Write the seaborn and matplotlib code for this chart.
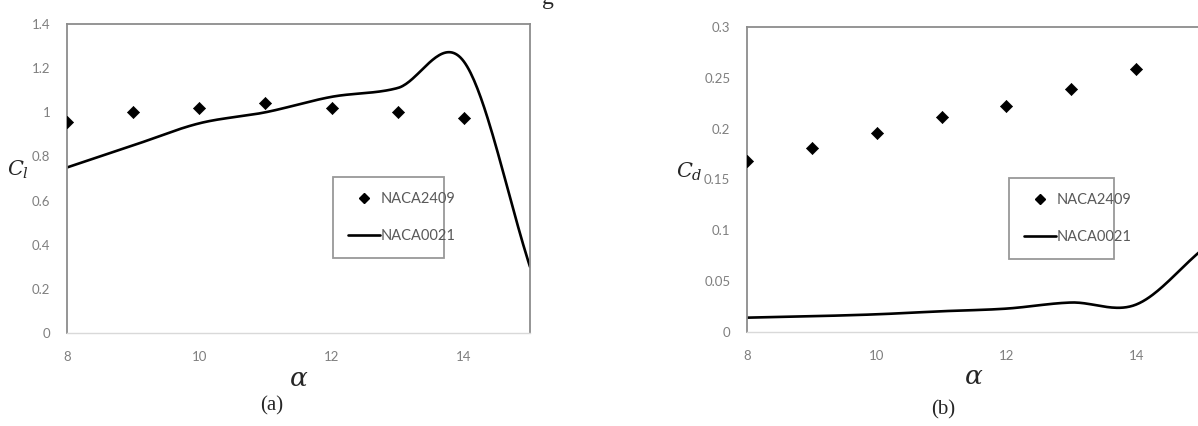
import numpy as np
import pandas as pd
import matplotlib
matplotlib.use("Agg")
import matplotlib.pyplot as plt
import seaborn as sns
from matplotlib.lines import Line2D

# ---------------- data ----------------
alpha_pts = [8, 9, 10, 11, 12, 13, 14]
cl_naca2409 = [0.955, 1.0, 1.02, 1.04, 1.02, 1.0, 0.975]
cd_naca2409 = [0.168, 0.181, 0.196, 0.211, 0.222, 0.239, 0.259]

alpha_line = [8, 9, 10, 11, 12, 13, 14, 15]
cl_naca0021 = [0.75, 0.85, 0.95, 1.0, 1.07, 1.11, 1.23, 0.30]
cd_naca0021 = [0.0141, 0.0155, 0.0174, 0.0204, 0.023, 0.029, 0.027, 0.08]

x_ticks = [8, 10, 12, 14]
cl_ticks = [0, 0.2, 0.4, 0.6, 0.8, 1.0, 1.2, 1.4]
cl_ticklabels = ["0", "0.2", "0.4", "0.6", "0.8", "1", "1.2", "1.4"]
cd_ticks = [0, 0.05, 0.1, 0.15, 0.2, 0.25, 0.3]
cd_ticklabels = ["0", "0.05", "0.1", "0.15", "0.2", "0.25", "0.3"]


def smooth_curve(xs, ys, n=40):
    """Catmull-Rom (Excel-style) smoothed rendering through given points."""
    xs = np.asarray(xs, float)
    ys = np.asarray(ys, float)
    m = np.zeros_like(ys)
    m[1:-1] = (ys[2:] - ys[:-2]) / (xs[2:] - xs[:-2])
    m[0] = (ys[1] - ys[0]) / (xs[1] - xs[0])
    m[-1] = (ys[-1] - ys[-2]) / (xs[-1] - xs[-2])
    ox, oy = [], []
    for i in range(len(xs) - 1):
        h = xs[i + 1] - xs[i]
        t = np.linspace(0, 1, n, endpoint=(i == len(xs) - 2))
        h00 = 2 * t**3 - 3 * t**2 + 1
        h10 = t**3 - 2 * t**2 + t
        h01 = -2 * t**3 + 3 * t**2
        h11 = t**3 - t**2
        ox.extend(xs[i] + t * h)
        oy.extend(h00 * ys[i] + h10 * h * m[i] + h01 * ys[i + 1] + h11 * h * m[i + 1])
    return np.array(ox), np.array(oy)


sns.set_style("white")
plt.rcParams["font.family"] = ["Lato", "DejaVu Sans"]
plt.rcParams["mathtext.fontset"] = "dejavuserif"

fig = plt.figure(figsize=(11.98, 4.26), dpi=100)
ax1 = fig.add_axes([67 / 1198, 1 - 333 / 426, (530 - 67) / 1198, (333 - 24) / 426])
ax2 = fig.add_axes([747 / 1198, 1 - 332 / 426, (1201 - 747) / 1198, (332 - 27) / 426])

tick_color = "#7f7f7f"
spine_dark = "#8c8c8c"
spine_light = "#d9d9d9"


def draw(ax, y_pts, y_line, yticks, yticklabels, ylim, legend_box):
    df_pts = pd.DataFrame({"alpha": alpha_pts, "val": y_pts})
    sx, sy = smooth_curve(alpha_line, y_line)
    df_line = pd.DataFrame({"alpha": sx, "val": sy})
    sns.scatterplot(data=df_pts, x="alpha", y="val", ax=ax, marker="D", s=38,
                    color="black", edgecolor="black", linewidth=0.5, zorder=3)
    sns.lineplot(data=df_line, x="alpha", y="val", ax=ax, color="black",
                 linewidth=1.9, zorder=2, sort=False)
    ax.set_xlim(8, 15)
    ax.set_ylim(*ylim)
    ax.set_xticks(x_ticks)
    ax.set_xticklabels([str(v) for v in x_ticks])
    ax.set_yticks(yticks)
    ax.set_yticklabels(yticklabels)
    ax.tick_params(axis="both", length=0, labelsize=9.5, colors=tick_color)
    ax.tick_params(axis="x", pad=13)
    ax.tick_params(axis="y", pad=12)
    ax.set_xlabel("")
    ax.set_ylabel("")
    for s in ["left", "top", "right"]:
        ax.spines[s].set_color(spine_dark)
        ax.spines[s].set_linewidth(1.3)
    ax.spines["bottom"].set_color(spine_light)
    ax.spines["bottom"].set_linewidth(1.0)
    ax.grid(False)

    handles = [
        Line2D([], [], marker="D", markersize=5, color="black", linestyle="none"),
        Line2D([], [], color="black", linewidth=1.9),
    ]
    x0, y0, x1, y1 = legend_box
    leg = ax.legend(handles, ["NACA2409", "NACA0021"],
                    loc="upper left",
                    bbox_to_anchor=(x0, y0, x1 - x0, y1 - y0),
                    bbox_transform=fig.transFigure,
                    mode="expand",
                    fontsize=10.5, frameon=True, fancybox=False,
                    handlelength=2.2, handletextpad=0.0,
                    labelspacing=1.55, borderpad=1.05, borderaxespad=0.0)
    leg.get_frame().set_edgecolor("#7f7f7f")
    leg.get_frame().set_linewidth(1.3)
    for t in leg.get_texts():
        t.set_color("#595959")


draw(ax1, cl_naca2409, cl_naca0021, cl_ticks, cl_ticklabels, (0, 1.4),
     (333 / 1198, 1 - 253 / 426, 444 / 1198, 1 - 177 / 426))
draw(ax2, cd_naca2409, cd_naca0021, cd_ticks, cd_ticklabels, (0, 0.3),
     (1009 / 1198, 1 - 252 / 426, 1114 / 1198, 1 - 178 / 426))

# axis labels placed as in the reference
fig.text(18 / 1198, 1 - 170 / 426, r"$C_l$", fontsize=15, ha="center", va="center")
fig.text(689 / 1198, 1 - 172 / 426, r"$C_d$", fontsize=15, ha="center", va="center")
fig.text(299 / 1198, 1 - 378 / 426, r"$\alpha$", fontsize=19, ha="center", va="center")
fig.text(974 / 1198, 1 - 376 / 426, r"$\alpha$", fontsize=19, ha="center", va="center")
fig.text(272 / 1198, 1 - 406 / 426, "(a)", fontsize=15, ha="center", va="center",
         family="Liberation Serif")
fig.text(943 / 1198, 1 - 410 / 426, "(b)", fontsize=15, ha="center", va="center",
         family="Liberation Serif")
# cut-off glyph at the top edge (caption above the figure): only its lower part shows
fig.text(548 / 1198, 1 - 4 / 426, "g", fontsize=17, ha="center", va="baseline",
         family="Liberation Serif")

fig.savefig("out.png", dpi=100, facecolor="white")
